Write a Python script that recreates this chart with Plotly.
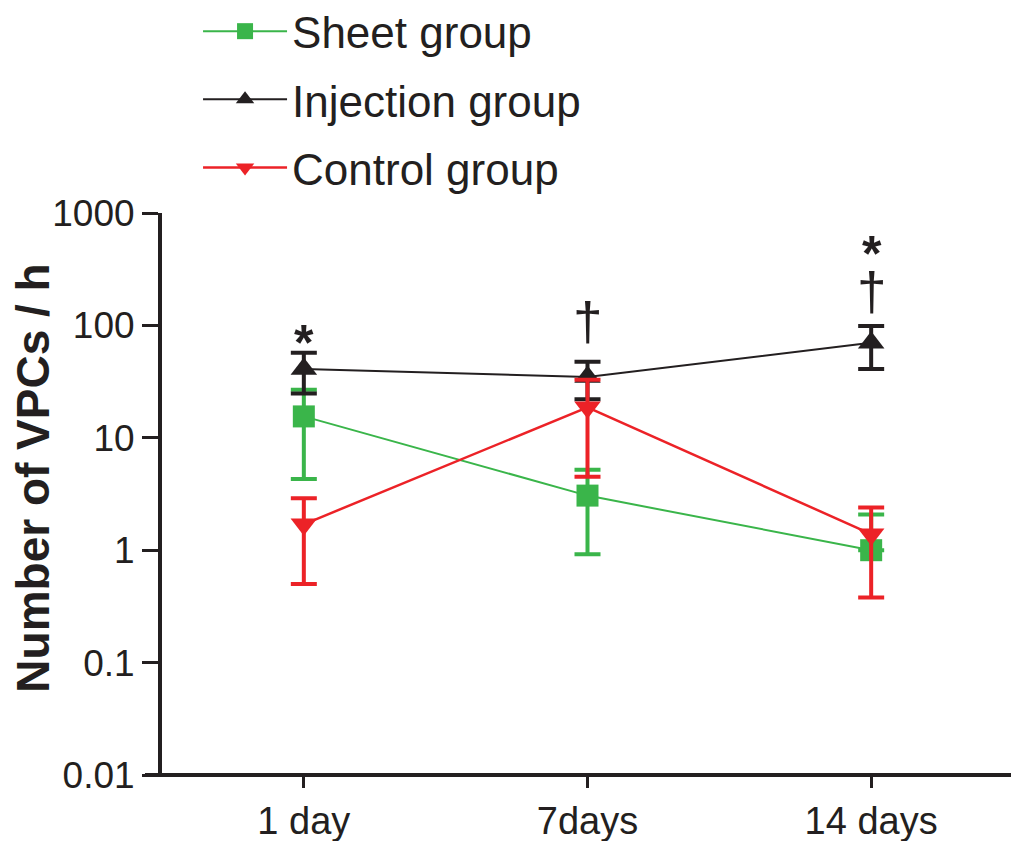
import math
import plotly.graph_objects as go

# ---------------- data ----------------
days = ["1 day", "7days", "14 days"]
sheet_mean = [15.5, 3.06, 1.0]
sheet_sd = [11.2, 2.14, 1.08]
injection_mean = [41.0, 34.8, 70.0]
injection_sd = [16.2, 12.8, 29.0]
control_mean = [1.7, 18.7, 1.39]
control_sd = [1.2, 14.2, 1.01]
y_tickvals = [0.01, 0.1, 1, 10, 100, 1000]
y_ticktext = ["0.01", "0.1", "1", "10", "100", "1000"]
# significance marks drawn above the injection group's error bars
sig_day = ["1 day", "7days", "14 days"]
sig_marks = [["*"], ["†"], ["*", "†"]]

# ---------------- style ----------------
GREEN = "#3ab54a"
BLACK = "#231f20"
RED = "#ec2227"
FONT = "Liberation Sans, Arial, sans-serif"
mark_style = {"*": "<span style='font-size:50px'><b>*</b></span>",
              "†": "<span style='font-size:53px'>†</span>"}
sig_anchor = ["middle", "middle", "bottom"]
sig_shift = [10, 40, 3]
sig_base = [22, 22, 30]


def lower_err(means, sds):
    # on a log axis the lower bar is omitted when mean - SD <= 0
    return [s if m - s > 0 else 0 for m, s in zip(means, sds)]


fig = go.Figure()

series = [
    ("Sheet group", sheet_mean, sheet_sd, GREEN, "square", 22, 2),
    ("Injection group", injection_mean, injection_sd, BLACK, "triangle-up", 23, 2),
    ("Control group", control_mean, control_sd, RED, "triangle-down", 23, 2.5),
]
for i, (name, m, sd, col, sym, msz, lw) in enumerate(series):
    fig.add_trace(go.Scatter(
        x=days, y=m, name=name, mode="lines+markers",
        legendgroup=name,
        line=dict(color=col, width=lw),
        marker=dict(symbol=sym, size=msz, color=col, line=dict(width=0)),
        error_y=dict(type="data", symmetric=False, array=sd,
                     arrayminus=lower_err(m, sd), color=col,
                     thickness=4, width=13),
    ))

lookup = {d: (injection_mean[k] + injection_sd[k]) for k, d in enumerate(days)}
for d, marks, anc, sh, fs in zip(sig_day, sig_marks, sig_anchor, sig_shift, sig_base):
    fig.add_annotation(
        x=d, y=math.log10(lookup[d]), xref="x", yref="y",
        text="<br>".join(mark_style[t] for t in marks),
        showarrow=False, yanchor=anc, yshift=sh,
        font=dict(family=FONT, size=fs, color=BLACK),
    )

# y-axis title
fig.add_annotation(
    x=-0.1516, y=0.529, xref="paper", yref="paper",
    text="<b>Number of VPCs / h</b>", textangle=-90, showarrow=False,
    xanchor="center", yanchor="middle",
    font=dict(family=FONT, size=46, color=BLACK),
)

# x-axis line extending a little left of the y-axis
fig.add_shape(type="line", xref="paper", yref="paper",
              x0=-0.02, x1=1.0, y0=0, y1=0,
              line=dict(color=BLACK, width=4), layer="above")

fig.update_layout(
    width=1019, height=841,
    margin=dict(l=154, r=14, t=205, b=74, autoexpand=False),
    paper_bgcolor="white", plot_bgcolor="white",
    font=dict(family=FONT, color=BLACK),
    showlegend=True,
    legend=dict(
        xref="container", yref="paper",
        x=0.1865, y=1.386, xanchor="left", yanchor="top",
        font=dict(family=FONT, size=44, color=BLACK),
        bgcolor="rgba(0,0,0,0)", tracegroupgap=8,
        itemsizing="trace", itemwidth=84,
    ),
    xaxis=dict(
        type="category", range=[-0.5, 2.5],
        showline=False, showgrid=False, zeroline=False,
        ticks="outside", ticklen=12, tickwidth=3, tickcolor=BLACK,
        tickfont=dict(family=FONT, size=38, color=BLACK),
    ),
    yaxis=dict(
        type="log", range=[-2, 3],
        tickvals=y_tickvals, ticktext=y_ticktext,
        showline=True, linecolor=BLACK, linewidth=4,
        showgrid=False, zeroline=False,
        ticks="outside", ticklen=16, tickwidth=3, tickcolor=BLACK,
        tickfont=dict(family=FONT, size=37, color=BLACK),
    ),
)

fig.write_html("out.html")
